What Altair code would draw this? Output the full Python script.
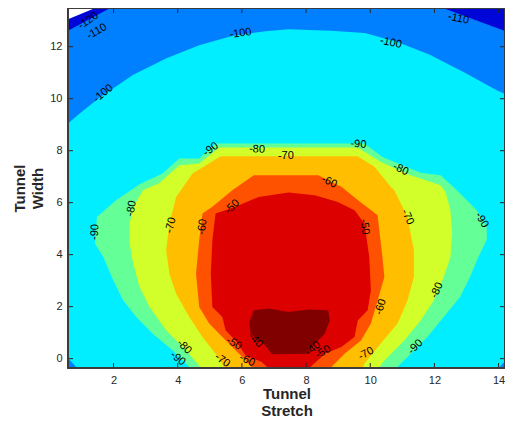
import altair as alt
import pandas as pd

# ---------------- data ----------------
x_domain = [0.58, 14.2]
y_domain = [-0.36, 13.49]
x_ticks = [2, 4, 6, 8, 10, 12, 14]
y_ticks = [0, 2, 4, 6, 8, 10, 12]

# contour band colours
c_below_m120 = "#ffffff"
c_m120_m110 = "#0006d8"
c_m110_m100 = "#0080ff"
c_m100_m90 = "#00eeff"
c_m90_m80 = "#64ff96"
c_m80_m70 = "#d2ff2a"
c_m70_m60 = "#ffbe00"
c_m60_m50 = "#ff5200"
c_m50_m40 = "#dc0000"
c_above_m40 = "#800000"

# region outlines (x, y) of each contour level set
whole_field = [(0.4, -0.5), (0.4, 13.8), (14.5, 13.8), (14.5, -0.5)]
below_m100_top = [(0.4, 13.8), (14.5, 13.8), (14.5, 10.0), (13.94, 10.33), (12.92, 11.02),
                  (11.87, 11.68), (10.85, 12.18), (9.83, 12.53), (8.78, 12.61), (7.45, 12.67),
                  (6.74, 12.60), (5.69, 12.41), (4.67, 12.06), (3.65, 11.56), (2.60, 10.91),
                  (1.58, 10.06), (0.96, 9.45), (0.4, 8.85)]
below_m100_bl = [(0.4, 0.25), (0.4, -0.5), (0.97, -0.5)]
below_m100_br = [(13.90, -0.5), (14.5, -0.5), (14.5, 0.30)]
below_m110_tl = [(0.4, 13.8), (2.36, 13.8), (0.4, 12.49)]
below_m110_tr = [(11.58, 13.8), (14.5, 13.8), (14.5, 12.47)]
below_m120_tl = [(0.4, 13.8), (2.03, 13.8), (0.4, 12.96)]

above_m90 = [(4.50, -0.5), (3.84, 0.32), (3.22, 0.96), (2.71, 1.60), (2.30, 2.24), (1.99, 3.02),
             (1.68, 3.91), (1.42, 4.43), (1.48, 5.45), (2.09, 6.10), (2.81, 6.71), (3.53, 7.12),
             (4.05, 7.70), (4.67, 7.70), (5.18, 8.28), (9.82, 8.28), (10.38, 7.76), (11.57, 7.15),
             (12.19, 7.06), (12.70, 6.48), (13.32, 5.71), (13.63, 5.07), (13.63, 4.56),
             (13.37, 3.91), (13.11, 3.14), (12.80, 2.37), (12.29, 1.60), (11.78, 0.83),
             (11.16, 0.06), (10.70, -0.5)]
above_m80 = [(4.82, -0.5), (4.26, 0.32), (3.64, 1.09), (3.12, 1.99), (2.81, 2.76), (2.61, 3.66),
             (2.50, 4.43), (2.50, 5.20), (2.61, 5.84), (2.92, 6.48), (3.43, 6.76), (4.05, 7.44),
             (4.67, 7.51), (5.29, 8.12), (9.61, 8.12), (10.33, 7.57), (11.26, 7.06), (12.19, 6.67),
             (12.35, 6.40), (12.50, 5.71), (12.55, 4.81), (12.50, 3.91), (12.29, 3.14),
             (11.98, 2.24), (11.57, 1.47), (11.06, 0.70), (10.44, -0.07), (10.18, -0.5)]
above_m70 = [(5.53, -0.5), (5.18, 0.19), (4.77, 0.83), (4.36, 1.60), (3.95, 2.50), (3.74, 3.27),
             (3.64, 4.17), (3.74, 5.20), (3.95, 6.22), (4.46, 7.12), (5.34, 7.79), (9.61, 7.79),
             (10.13, 7.38), (10.64, 6.61), (10.75, 6.48), (11.16, 5.45), (11.36, 4.17),
             (11.36, 3.14), (11.16, 2.24), (10.85, 1.35), (10.33, 0.58), (9.82, -0.19), (9.72, -0.5)]
above_m60 = [(6.42, -0.5), (6.21, -0.19), (5.80, 0.32), (5.39, 0.83), (4.98, 1.35), (4.67, 1.99),
             (4.57, 3.27), (4.67, 4.56), (4.77, 5.58), (5.08, 5.84), (5.70, 6.48), (6.37, 7.06),
             (8.38, 7.06), (9.10, 6.61), (9.61, 6.10), (10.23, 5.52), (10.38, 3.91), (10.44, 3.14),
             (10.23, 2.24), (10.02, 1.35), (9.71, 0.70), (9.20, 0.19), (8.79, -0.32), (8.72, -0.5)]
above_m50 = [(6.93, -0.5), (6.62, -0.13), (6.11, 0.13), (5.80, 0.70), (5.49, 1.09), (5.39, 1.60),
             (5.08, 1.99), (5.03, 3.27), (5.08, 4.56), (5.18, 5.58), (5.80, 5.84), (6.52, 6.22),
             (7.45, 6.39), (8.27, 6.29), (8.99, 6.03), (9.51, 5.71), (9.82, 5.20), (9.97, 3.91),
             (10.02, 2.63), (9.92, 1.86), (9.61, 1.47), (9.51, 0.83), (9.10, 0.45), (8.58, 0.19),
             (8.48, 0.06), (7.97, -0.5)]
above_m40 = [(6.23, 1.41), (6.37, 1.86), (6.83, 1.93), (7.45, 1.79), (8.07, 1.89), (8.69, 1.86),
             (8.74, 1.47), (8.58, 0.96), (8.17, 0.45), (8.07, 0.19), (6.93, 0.17), (6.73, 0.51),
             (6.27, 0.96)]

# contour labels: text, x, y, rotation (degrees, clockwise)
label_text = ["-120", "-110", "-100", "-100", "-110", "-100",
              "-90", "-80", "-70", "-90", "-80", "-60", "-50",
              "-90", "-80", "-70", "-60", "-50", "-70", "-90", "-80", "-60",
              "-90", "-70", "-50", "-40", "-80", "-90", "-70", "-60", "-50", "-40"]
label_x = [1.21, 1.48, 5.96, 10.64, 12.75, 1.68,
           5.03, 6.47, 7.37, 9.63, 10.95, 8.72, 5.70,
           1.42, 2.56, 3.79, 4.77, 9.82, 11.16, 13.47, 12.08, 10.33,
           11.41, 9.87, 8.53, 8.22, 4.20, 4.00, 5.39, 6.16, 5.75, 6.42]
label_y = [13.0, 12.58, 12.51, 12.15, 13.08, 10.20,
           8.05, 8.05, 7.80, 8.24, 7.28, 6.80, 5.84,
           4.87, 5.78, 5.13, 5.07, 5.07, 5.45, 5.33, 2.63, 1.99,
           0.45, 0.19, 0.25, 0.39, 0.45, 0.0, -0.07, -0.07, 0.58, 0.70]
label_angle = [325, 330, 352, 12, 12, 320,
               325, 3, 0, 5, 25, 25, 315,
               274, 281, 284, 277, 82, 64, 59, 294, 286,
               315, 330, 330, 320, 45, 40, 35, 25, 30, 45]

# ---------------- chart ----------------
W, H = 437, 360
FONT = "Liberation Sans"
DARK = "#262626"

xs = alt.Scale(domain=x_domain, nice=False, zero=False)
ys = alt.Scale(domain=y_domain, nice=False, zero=False)
x_axis = alt.Axis(values=x_ticks, format="d", ticks=False, domain=False, grid=False,
                  labelPadding=6, labelFontSize=11, labelFont=FONT, labelColor=DARK,
                  title=["Tunnel", "Stretch"], titleFont=FONT, titleFontSize=15,
                  titleFontWeight="bold", titleColor=DARK, titlePadding=1, titleLineHeight=17)
y_axis = alt.Axis(values=y_ticks, format="d", ticks=False, domain=False, grid=False,
                  labelPadding=6, labelFontSize=11, labelFont=FONT, labelColor=DARK,
                  title=["Tunnel", "Width"], titleFont=FONT, titleFontSize=15,
                  titleFontWeight="bold", titleColor=DARK, titlePadding=4, titleLineHeight=18)

regions = [
    (whole_field, c_m100_m90),
    (below_m100_top, c_m110_m100),
    (below_m100_bl, c_m110_m100),
    (below_m100_br, c_m110_m100),
    (below_m110_tl, c_m120_m110),
    (below_m110_tr, c_m120_m110),
    (below_m120_tl, c_below_m120),
    (above_m90, c_m90_m80),
    (above_m80, c_m80_m70),
    (above_m70, c_m70_m60),
    (above_m60, c_m60_m50),
    (above_m50, c_m50_m40),
    (above_m40, c_above_m40),
]

layers = []
for pts, col in regions:
    df = pd.DataFrame({"x": [p[0] for p in pts], "y": [p[1] for p in pts],
                       "i": list(range(len(pts)))})
    layers.append(
        alt.Chart(df).mark_line(filled=True, fill=col, strokeOpacity=0, clip=True)
        .encode(x=alt.X("x:Q", scale=xs, axis=x_axis),
                y=alt.Y("y:Q", scale=ys, axis=y_axis),
                order="i:Q")
    )

lab_df = pd.DataFrame({"t": label_text, "x": label_x, "y": label_y, "a": label_angle})
labels = alt.Chart(lab_df).mark_text(font=FONT, fontSize=11, color="black",
                                     align="center", baseline="middle", clip=True).encode(
    x=alt.X("x:Q", scale=xs, axis=x_axis), y=alt.Y("y:Q", scale=ys, axis=y_axis),
    text="t:N", angle=alt.Angle("a:Q", scale=None))

xt = pd.DataFrame({"v": x_ticks})
yt = pd.DataFrame({"v": y_ticks})
tick_b = alt.Chart(xt).mark_rule(color=DARK, strokeWidth=1).encode(
    x=alt.X("v:Q", scale=xs, axis=x_axis), y=alt.value(H), y2=alt.value(H - 5))
tick_t = alt.Chart(xt).mark_rule(color=DARK, strokeWidth=1).encode(
    x=alt.X("v:Q", scale=xs, axis=x_axis), y=alt.value(0), y2=alt.value(5))
tick_l = alt.Chart(yt).mark_rule(color=DARK, strokeWidth=1).encode(
    y=alt.Y("v:Q", scale=ys, axis=y_axis), x=alt.value(0), x2=alt.value(5))
tick_r = alt.Chart(yt).mark_rule(color=DARK, strokeWidth=1).encode(
    y=alt.Y("v:Q", scale=ys, axis=y_axis), x=alt.value(W), x2=alt.value(W - 5))

frame = alt.Chart(xt).mark_rect(fillOpacity=0, stroke="#3c3c3c", strokeWidth=1.2).encode(
    x=alt.value(0), x2=alt.value(W), y=alt.value(0), y2=alt.value(H))

chart = alt.layer(*layers, labels, tick_b, tick_t, tick_l, tick_r, frame).properties(
    width=W, height=H, autosize="none",
    padding={"left": 60, "top": 0, "right": 0, "bottom": 50},
).configure_view(stroke=None).configure(background="white")

chart.save("out.html", embed_options={"renderer": "svg", "actions": False})
